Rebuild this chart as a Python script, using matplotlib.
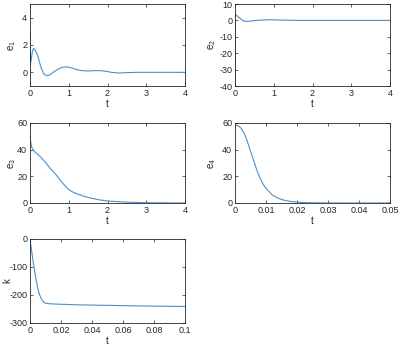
import matplotlib
matplotlib.use("Agg")
import matplotlib.pyplot as plt
from matplotlib.ticker import FormatStrFormatter

plt.rcParams['font.family'] = ['Liberation Sans', 'DejaVu Sans']
plt.rcParams['mathtext.fontset'] = 'custom'
plt.rcParams['mathtext.rm'] = 'Liberation Sans'

# ---- data ----
t1 = [0, 0.01, 0.03, 0.06, 0.09, 0.13, 0.2, 0.28, 0.35, 0.43, 0.5, 0.6, 0.7, 0.8, 0.9, 1.0,
      1.1, 1.2, 1.35, 1.5, 1.65, 1.8, 1.95, 2.1, 2.3, 2.5, 2.8, 3.2, 4.0]
e1 = [2.9, 0.6, 0.9, 1.5, 1.75, 1.65, 1.2, 0.4, -0.1, -0.25, -0.2, 0.0, 0.2, 0.33, 0.4, 0.38,
      0.3, 0.2, 0.12, 0.1, 0.12, 0.13, 0.08, 0.0, -0.05, -0.02, 0.0, 0.0, 0.0]

t2 = [0, 0.001, 0.02, 0.08, 0.15, 0.22, 0.3, 0.4, 0.6, 0.9, 1.2, 1.6, 2.0, 4.0]
e2 = [-40, 3.2, 3.3, 2.3, 0.8, -0.3, -0.6, -0.4, 0.1, 0.4, 0.2, 0.0, 0.0, 0.0]

t3 = [0, 0.01, 0.04, 0.1, 0.2, 0.26, 0.4, 0.52, 0.65, 0.77, 0.9, 1.0, 1.1, 1.2, 1.4, 1.55,
      1.8, 2.0, 2.3, 2.6, 3.0, 4.0]
e3 = [51, 47, 42, 39, 36.5, 35, 30.5, 26, 22, 17.5, 13, 10, 8.3, 7, 5, 3.8,
      2.3, 1.5, 0.9, 0.5, 0.2, 0.0]

t4 = [0, 0.001, 0.002, 0.003, 0.004, 0.005, 0.006, 0.007, 0.008, 0.009, 0.010, 0.012,
      0.014, 0.016, 0.018, 0.020, 0.023, 0.026, 0.03, 0.05]
e4 = [58.5, 58, 56, 52, 46, 39, 32, 25, 19, 14.5, 11, 6, 3.5, 2, 1.1, 0.6, 0.25, 0.1, 0.0, 0.0]

t5 = [0, 0.001, 0.002, 0.003, 0.004, 0.005, 0.006, 0.007, 0.008, 0.009, 0.010, 0.012,
      0.015, 0.02, 0.03, 0.05, 0.07, 0.1]
k = [0, -40, -80, -115, -148, -175, -196, -210, -220, -226, -229, -231, -232, -233, -235,
     -237, -239, -241]

panels = [
    (t1, e1, 'e$_\\mathregular{1}$', (0, 4), (-1, 5), [0, 1, 2, 3, 4], [0, 2, 4]),
    (t2, e2, 'e$_\\mathregular{2}$', (0, 4), (-40, 10), [0, 1, 2, 3, 4], [-40, -30, -20, -10, 0, 10]),
    (t3, e3, 'e$_\\mathregular{3}$', (0, 4), (0, 60), [0, 1, 2, 3, 4], [0, 20, 40, 60]),
    (t4, e4, 'e$_\\mathregular{4}$', (0, 0.05), (0, 60), [0, 0.01, 0.02, 0.03, 0.04, 0.05], [0, 20, 40, 60]),
    (t5, k, 'k', (0, 0.1), (-300, 0), [0, 0.02, 0.04, 0.06, 0.08, 0.1], [-300, -200, -100, 0]),
]

W, H = 400, 345
boxes = [
    (30, 4, 155, 82), (235, 4, 155, 82),
    (30, 123, 155, 80), (235, 123, 155, 80),
    (30, 239, 155, 84),
]
# y-label centre x position (pixels) as seen in the reference
label_x = [12, 212, 12, 212, 7]

fig = plt.figure(figsize=(4.0, 3.45), dpi=100)
fig.patch.set_facecolor('white')
axcol = '#262626'
linecol = '#4a8fc9'

for (t, y, lab, xl, yl, xt, yt), (x0, y0, w, h), lx in zip(panels, boxes, label_x):
    ax = fig.add_axes([x0 / W, 1 - (y0 + h) / H, w / W, h / H])
    ax.plot(t, y, color=linecol, lw=0.8)
    ax.set_xlim(*xl)
    ax.set_ylim(*yl)
    ax.set_xticks(xt)
    ax.set_yticks(yt)
    ax.xaxis.set_major_formatter(FormatStrFormatter('%g'))
    ax.yaxis.set_major_formatter(FormatStrFormatter('%g'))
    ax.tick_params(direction='in', length=2, width=0.5, labelsize=6.5, colors=axcol,
                   top=True, right=True, pad=2)
    for s in ax.spines.values():
        s.set_linewidth(0.6)
        s.set_color(axcol)
    ax.set_xlabel('t', fontsize=7, color=axcol, labelpad=1)
    ax.set_ylabel(lab, fontsize=7, color=axcol, va='center')
    ax.yaxis.set_label_coords((lx - x0) / w, 0.5)

fig.savefig('out.png', dpi=100)
